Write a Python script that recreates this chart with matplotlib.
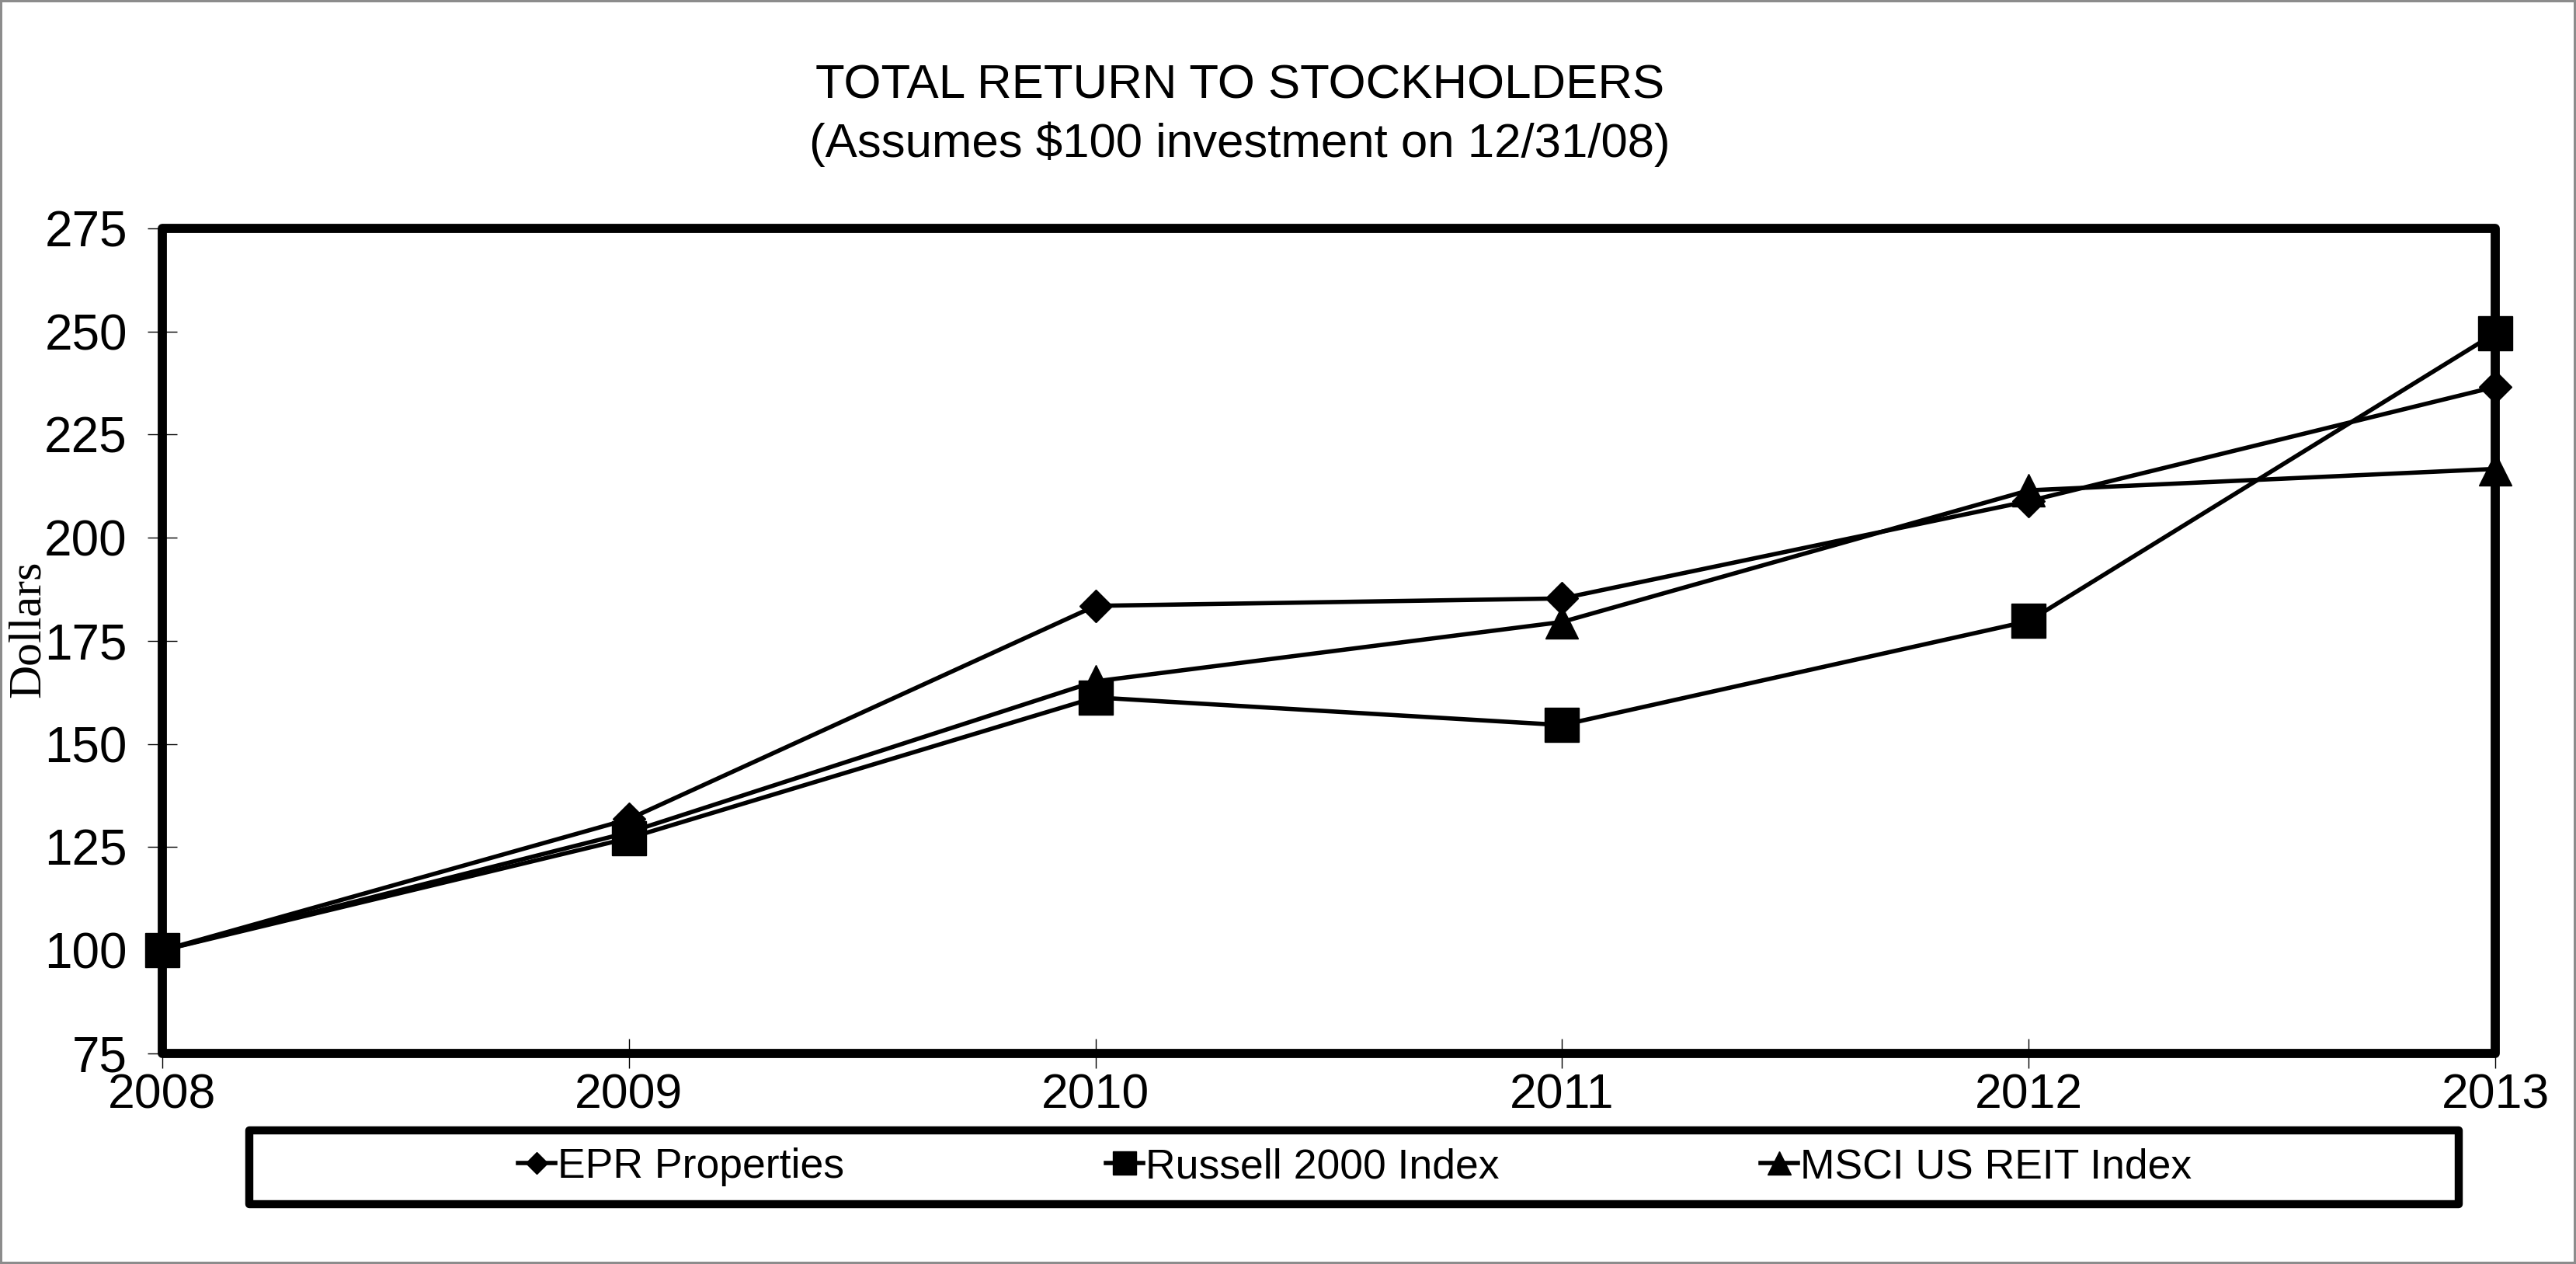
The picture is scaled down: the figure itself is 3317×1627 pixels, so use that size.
import matplotlib
matplotlib.use('Agg')
from matplotlib import pyplot as plt
from matplotlib.patches import Rectangle

years = [2008, 2009, 2010, 2011, 2012, 2013]
epr = [100, 131.8, 183.5, 185.3, 208.9, 236.6]
russell = [100, 127.2, 161.3, 154.6, 179.8, 249.6]
msci = [100, 128.6, 165.2, 179.6, 211.5, 216.7]
yticks = [75, 100, 125, 150, 175, 200, 225, 250, 275]

plt.rcParams['font.family'] = ['Liberation Sans', 'DejaVu Sans']

fig = plt.figure(figsize=(33.17, 16.27), dpi=100)
fig.patch.set_edgecolor('#8c8c8c')
fig.patch.set_linewidth(3)

ax = fig.add_axes([0.063, 0.1666, 0.9057, 0.6527])
l1, = ax.plot(years, epr, color='black', lw=4, marker='D', markersize=21, clip_on=False, zorder=3)
l2, = ax.plot(years, russell, color='black', lw=4, marker='s', markersize=31, clip_on=False, zorder=3)
l3, = ax.plot(years, msci, color='black', lw=4, marker='^', markersize=30, clip_on=False, zorder=3)

ax.set_xlim(2008, 2013)
ax.set_ylim(75, 275)
ax.set_yticks(yticks)
ax.set_xticks(years)
for s in ax.spines.values():
    s.set_visible(False)
# frame with rounded corners
ax.add_patch(Rectangle((0, 0), 1, 1, transform=ax.transAxes, fill=False,
                       lw=8.5, edgecolor='black', joinstyle='round', clip_on=False, zorder=2))
ax.tick_params(axis='y', direction='inout', length=27, width=1, pad=19, labelsize=46)
ax.tick_params(axis='x', direction='inout', length=27, width=1, pad=4, labelsize=45)

fig.text(0.4812, 0.932, 'TOTAL RETURN TO STOCKHOLDERS', ha='center', va='center', fontsize=44.5)
fig.text(0.4812, 0.886, '(Assumes $100 investment on 12/31/08)', ha='center', va='center', fontsize=44.5)
fig.text(0.011, 0.502, 'Dollars', rotation=90, ha='center', va='center', fontsize=43,
         family='Liberation Serif')

# legend box
fig.patches.append(Rectangle((321 / 3317, 1 - 1550 / 1627), (3166 - 321) / 3317, 95 / 1627,
                             transform=fig.transFigure, fill=False, lw=7.5, edgecolor='black',
                             joinstyle='round'))
fig.legend([l1, l2, l3], ['EPR Properties', 'Russell 2000 Index', 'MSCI US REIT Index'],
           loc='center', bbox_to_anchor=(0.526, 0.0768), ncol=3, frameon=False,
           fontsize=38.5, markerscale=0.7, handlelength=0.9, handletextpad=0.05,
           columnspacing=6.3)

fig.savefig('out.png', dpi=100)
